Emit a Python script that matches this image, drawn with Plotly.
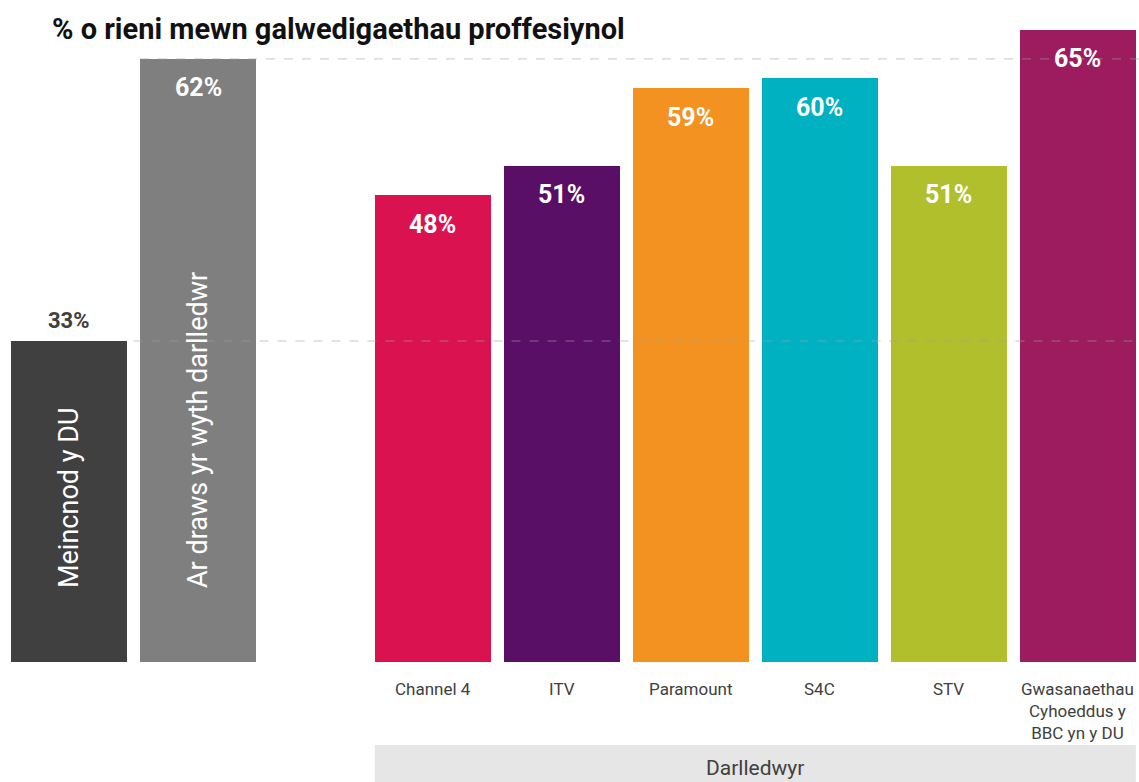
import plotly.graph_objects as go

# ---- data ----
categories = ["Meincnod y DU", "Ar draws yr wyth darlledwr", "Channel 4", "ITV",
              "Paramount", "S4C", "STV", "Gwasanaethau<br>Cyhoeddus y<br>BBC yn y DU"]
values = [33, 62, 48, 51, 59, 60, 51, 65]
value_labels = ["33%", "62%", "48%", "51%", "59%", "60%", "51%", "65%"]
group_label = "Darlledwyr"
title_text = "% o rieni mewn galwedigaethau proffesiynol"

# ---- layout / style ----
xpos = [0, 1, 2.82, 3.82, 4.82, 5.82, 6.82, 7.82]
colors = ["#404040", "#7F7F80", "#DA1350", "#590F65", "#F39221", "#00B1C2", "#B1BF2D", "#9C1C5F"]
W, H = 1139, 782
BW = 0.9
xr = [-0.535, -0.535 + W / 129]
plot_h = 662
yr = [0, plot_h / 9.727]
FONT = "Roboto"

fig = go.Figure()
fig.add_trace(go.Bar(x=xpos, y=values, width=BW, marker=dict(color=colors, line=dict(width=0)),
                     hoverinfo="skip"))

ann = []
# title
ann.append(dict(text=title_text, xref="paper", yref="paper", x=50 / W, y=(plot_h - 29) / plot_h,
                xanchor="left", yanchor="middle", showarrow=False,
                font=dict(family=FONT, size=29, color="#111111", weight="bold")))
# value labels
for i, (xv, v, t) in enumerate(zip(xpos, values, value_labels)):
    if i == 0:
        ann.append(dict(text=t, x=xv, y=v, xref="x", yref="y", yanchor="middle", yshift=21,
                        showarrow=False, font=dict(family=FONT, size=22, color="#404040", weight="bold")))
    else:
        ann.append(dict(text=t, x=xv, y=v, xref="x", yref="y", yanchor="middle", yshift=-29,
                        showarrow=False, font=dict(family=FONT, size=25, color="white", weight="bold")))
# rotated labels in first two bars
for i in range(2):
    ann.append(dict(text=categories[i], x=xpos[i], y=(plot_h - 590) / 9.727, xref="x", yref="y",
                    yanchor="bottom", xanchor="center", textangle=-90, showarrow=False,
                    font=dict(family=FONT, size=27, color="white")))
# category labels
for i in range(2, len(categories)):
    ann.append(dict(text=categories[i], x=xpos[i], y=(plot_h - 677) / plot_h, xref="x", yref="paper",
                    yanchor="top", xanchor="center", showarrow=False,
                    font=dict(family=FONT, size=17, color="#404040")))
# group label
ann.append(dict(text=group_label, x=(xpos[2] + xpos[-1]) / 2, y=(plot_h - 768) / plot_h,
                xref="x", yref="paper", yanchor="middle", showarrow=False,
                font=dict(family=FONT, size=21, color="#404040")))

shapes = [
    dict(type="rect", xref="x", yref="paper", x0=xpos[2] - BW / 2, x1=xpos[-1] + BW / 2,
         y0=(plot_h - 745) / plot_h, y1=(plot_h - 800) / plot_h, fillcolor="#E6E6E7",
         line=dict(width=0), layer="below"),
    dict(type="line", xref="x", yref="y", x0=xpos[0] + 0.5, x1=xr[1], y0=values[0], y1=values[0],
         line=dict(color="rgba(160,160,160,0.6)", width=1, dash="dash"), layer="above"),
    dict(type="line", xref="x", yref="y", x0=xpos[1] - BW / 2, x1=xr[1], y0=values[1], y1=values[1],
         line=dict(color="rgba(160,160,160,0.6)", width=1, dash="dash"), layer="above"),
]

fig.update_layout(
    width=W, height=H, margin=dict(l=0, r=0, t=0, b=H - plot_h),
    paper_bgcolor="white", plot_bgcolor="white", showlegend=False,
    xaxis=dict(range=xr, visible=False, fixedrange=True),
    yaxis=dict(range=yr, visible=False, fixedrange=True),
    annotations=ann, shapes=shapes, bargap=0,
)
fig.write_html("out.html", config={"displayModeBar": False},
               post_script="document.body.style.margin='0';document.body.style.overflow='hidden';")
